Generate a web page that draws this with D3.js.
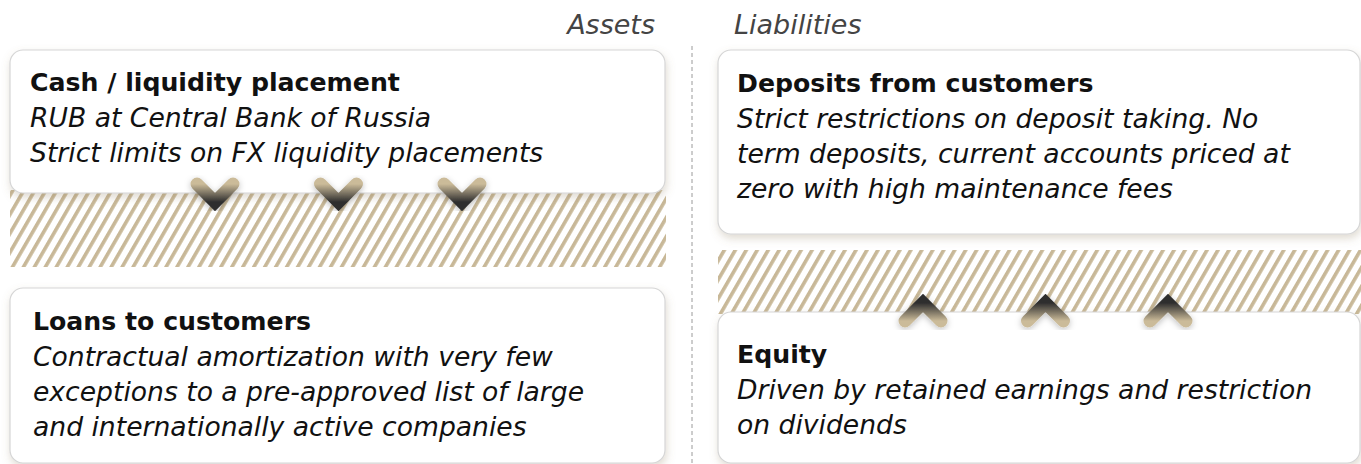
<!DOCTYPE html>
<html>
<head>
<meta charset="utf-8">
<script src="https://cdn.jsdelivr.net/npm/d3@7"></script>
<style>
  body { margin: 0; background: #ffffff; }
  svg { display: block; font-family: "DejaVu Sans", "Noto Sans", sans-serif; }
  .title { font-weight: 700; fill: #111; }
  .desc { font-style: italic; fill: #111; }
  .side { font-style: italic; fill: #444; }
</style>
</head>
<body>
<script>
// balance sheet sides
var sides = ["Assets", "Liabilities"];

// box titles and which side they belong to
var titles = ["Cash / liquidity placement", "Loans to customers", "Deposits from customers", "Equity"];
var boxSide = ["Assets", "Assets", "Liabilities", "Liabilities"];

// italic description lines per box
var descriptions = [
	["RUB at Central Bank of Russia", "Strict limits on FX liquidity placements"],
	["Contractual amortization with very few", "exceptions to a pre-approved list of large", "and internationally active companies"],
	["Strict restrictions on deposit taking. No", "term deposits, current accounts priced at", "zero with high maintenance fees"],
	["Driven by retained earnings and restriction", "on dividends"]
];

// direction of the arrows between the two boxes on each side
var arrowDirection = ["down", "up"];
var arrowsPerSide = [0, 1, 2];

window.onload = function() {

	var w = 1361;
	var h = 464;

	// layout of the page
	var colX = { "Assets": [10, 666], "Liabilities": [718, 1361] };
	var boxY = [[50, 193], [288, 463], [50, 234], [312, 463]];
	var titleOffset = [41, 42, 42, 51];
	var padX = [20, 23, 19, 19];
	var hatchY = { "Assets": [190, 267], "Liabilities": [250, 314] };
	var arrowY = { "Assets": 194, "Liabilities": 311 };
	var arrowX = { "Assets": [215, 462], "Liabilities": [923, 1168] };
	var lineHeight = 35;

	var svg = d3.select("body")
		.append("svg")
		.attr("width", w)
		.attr("height", h);

	var defs = svg.append("defs");

	// hatch pattern
	var pattern = defs.append("pattern")
		.attr("id", "hatch")
		.attr("patternUnits", "userSpaceOnUse")
		.attr("width", 9.5)
		.attr("height", 20)
		.attr("patternTransform", "rotate(30)");
	pattern.append("rect")
		.attr("x", 0)
		.attr("y", 0)
		.attr("width", 3.6)
		.attr("height", 20)
		.attr("fill", "#c8b898");

	// soft shadows
	var shadow = defs.append("filter")
		.attr("id", "shadow")
		.attr("x", "-10%").attr("y", "-20%")
		.attr("width", "120%").attr("height", "150%");
	shadow.append("feDropShadow")
		.attr("dx", 1).attr("dy", 4)
		.attr("stdDeviation", 4)
		.attr("flood-color", "#8c7a58")
		.attr("flood-opacity", 0.28);

	var arrowShadow = defs.append("filter")
		.attr("id", "arrowShadow")
		.attr("x", "-50%").attr("y", "-50%")
		.attr("width", "200%").attr("height", "200%");
	arrowShadow.append("feDropShadow")
		.attr("dx", 0).attr("dy", 2)
		.attr("stdDeviation", 3)
		.attr("flood-color", "#000")
		.attr("flood-opacity", 0.25);

	// gradients for the arrows
	var gradColors = { "down": ["#cbbb99", "#2f2f2f"], "up": ["#2f2f2f", "#cbbb99"] };
	arrowDirection.forEach(function(dir) {
		var g = defs.append("linearGradient")
			.attr("id", "grad-" + dir)
			.attr("x1", 0).attr("y1", 0)
			.attr("x2", 0).attr("y2", 1);
		g.append("stop").attr("offset", "0%").attr("stop-color", gradColors[dir][0]);
		g.append("stop").attr("offset", "100%").attr("stop-color", gradColors[dir][1]);
	});

	// side labels
	svg.selectAll("text.side")
		.data(sides)
		.enter()
		.append("text")
		.attr("class", "side")
		.attr("x", function(d, i) { return i == 0 ? 655 : 734; })
		.attr("y", 34)
		.attr("text-anchor", function(d, i) { return i == 0 ? "end" : "start"; })
		.style("font-size", "27px")
		.text(function(d) { return d; });

	// dashed divider
	svg.append("line")
		.attr("x1", 692).attr("x2", 692)
		.attr("y1", 46).attr("y2", h)
		.attr("stroke", "#9a9a9a")
		.attr("stroke-width", 1)
		.attr("stroke-dasharray", "4,3");

	// hatched areas
	svg.selectAll("rect.hatch")
		.data(sides)
		.enter()
		.append("rect")
		.attr("class", "hatch")
		.attr("x", function(d) { return colX[d][0]; })
		.attr("y", function(d) { return hatchY[d][0]; })
		.attr("width", function(d) { return colX[d][1] - colX[d][0]; })
		.attr("height", function(d) { return hatchY[d][1] - hatchY[d][0]; })
		.attr("fill", "url(#hatch)");

	// boxes
	var boxes = svg.selectAll("g.box")
		.data(titles)
		.enter()
		.append("g")
		.attr("class", "box");

	boxes.append("rect")
		.attr("x", function(d, i) { return colX[boxSide[i]][0]; })
		.attr("y", function(d, i) { return boxY[i][0]; })
		.attr("width", function(d, i) { return colX[boxSide[i]][1] - colX[boxSide[i]][0] - 1; })
		.attr("height", function(d, i) { return boxY[i][1] - boxY[i][0]; })
		.attr("rx", 13)
		.attr("fill", "#fff")
		.attr("stroke", "#d6d6d6")
		.attr("stroke-width", 1.2)
		.attr("filter", "url(#shadow)");

	boxes.append("text")
		.attr("class", "title")
		.attr("x", function(d, i) { return colX[boxSide[i]][0] + padX[i]; })
		.attr("y", function(d, i) { return boxY[i][0] + titleOffset[i]; })
		.style("font-size", "25.2px")
		.text(function(d) { return d; });

	boxes.each(function(d, i) {
		d3.select(this).selectAll("text.desc")
			.data(descriptions[i])
			.enter()
			.append("text")
			.attr("class", "desc")
			.attr("x", colX[boxSide[i]][0] + padX[i])
			.attr("y", function(line, j) { return boxY[i][0] + titleOffset[i] + (j + 1) * lineHeight + 1; })
			.style("font-size", "26.6px")
			.text(function(line) { return line; });
	});

	// arrows
	sides.forEach(function(side, s) {
		var scaleX = d3.scalePoint()
			.domain(arrowsPerSide)
			.range(arrowX[side]);
		var dir = arrowDirection[s];
		var sign = dir == "down" ? 1 : -1;

		svg.selectAll("polyline.arrow-" + dir)
			.data(arrowsPerSide)
			.enter()
			.append("polyline")
			.attr("class", "arrow-" + dir)
			.attr("points", function(d) {
				var cx = scaleX(d);
				var cy = arrowY[side];
				return [[cx - 18, cy - 10 * sign], [cx, cy + 8 * sign], [cx + 18, cy - 10 * sign]].join(" ");
			})
			.attr("fill", "none")
			.attr("stroke", "url(#grad-" + dir + ")")
			.attr("stroke-width", 13)
			.attr("stroke-linejoin", "miter")
			.attr("stroke-linecap", "round")
			.attr("filter", "url(#arrowShadow)");
	});
};
</script>
</body>
</html>
